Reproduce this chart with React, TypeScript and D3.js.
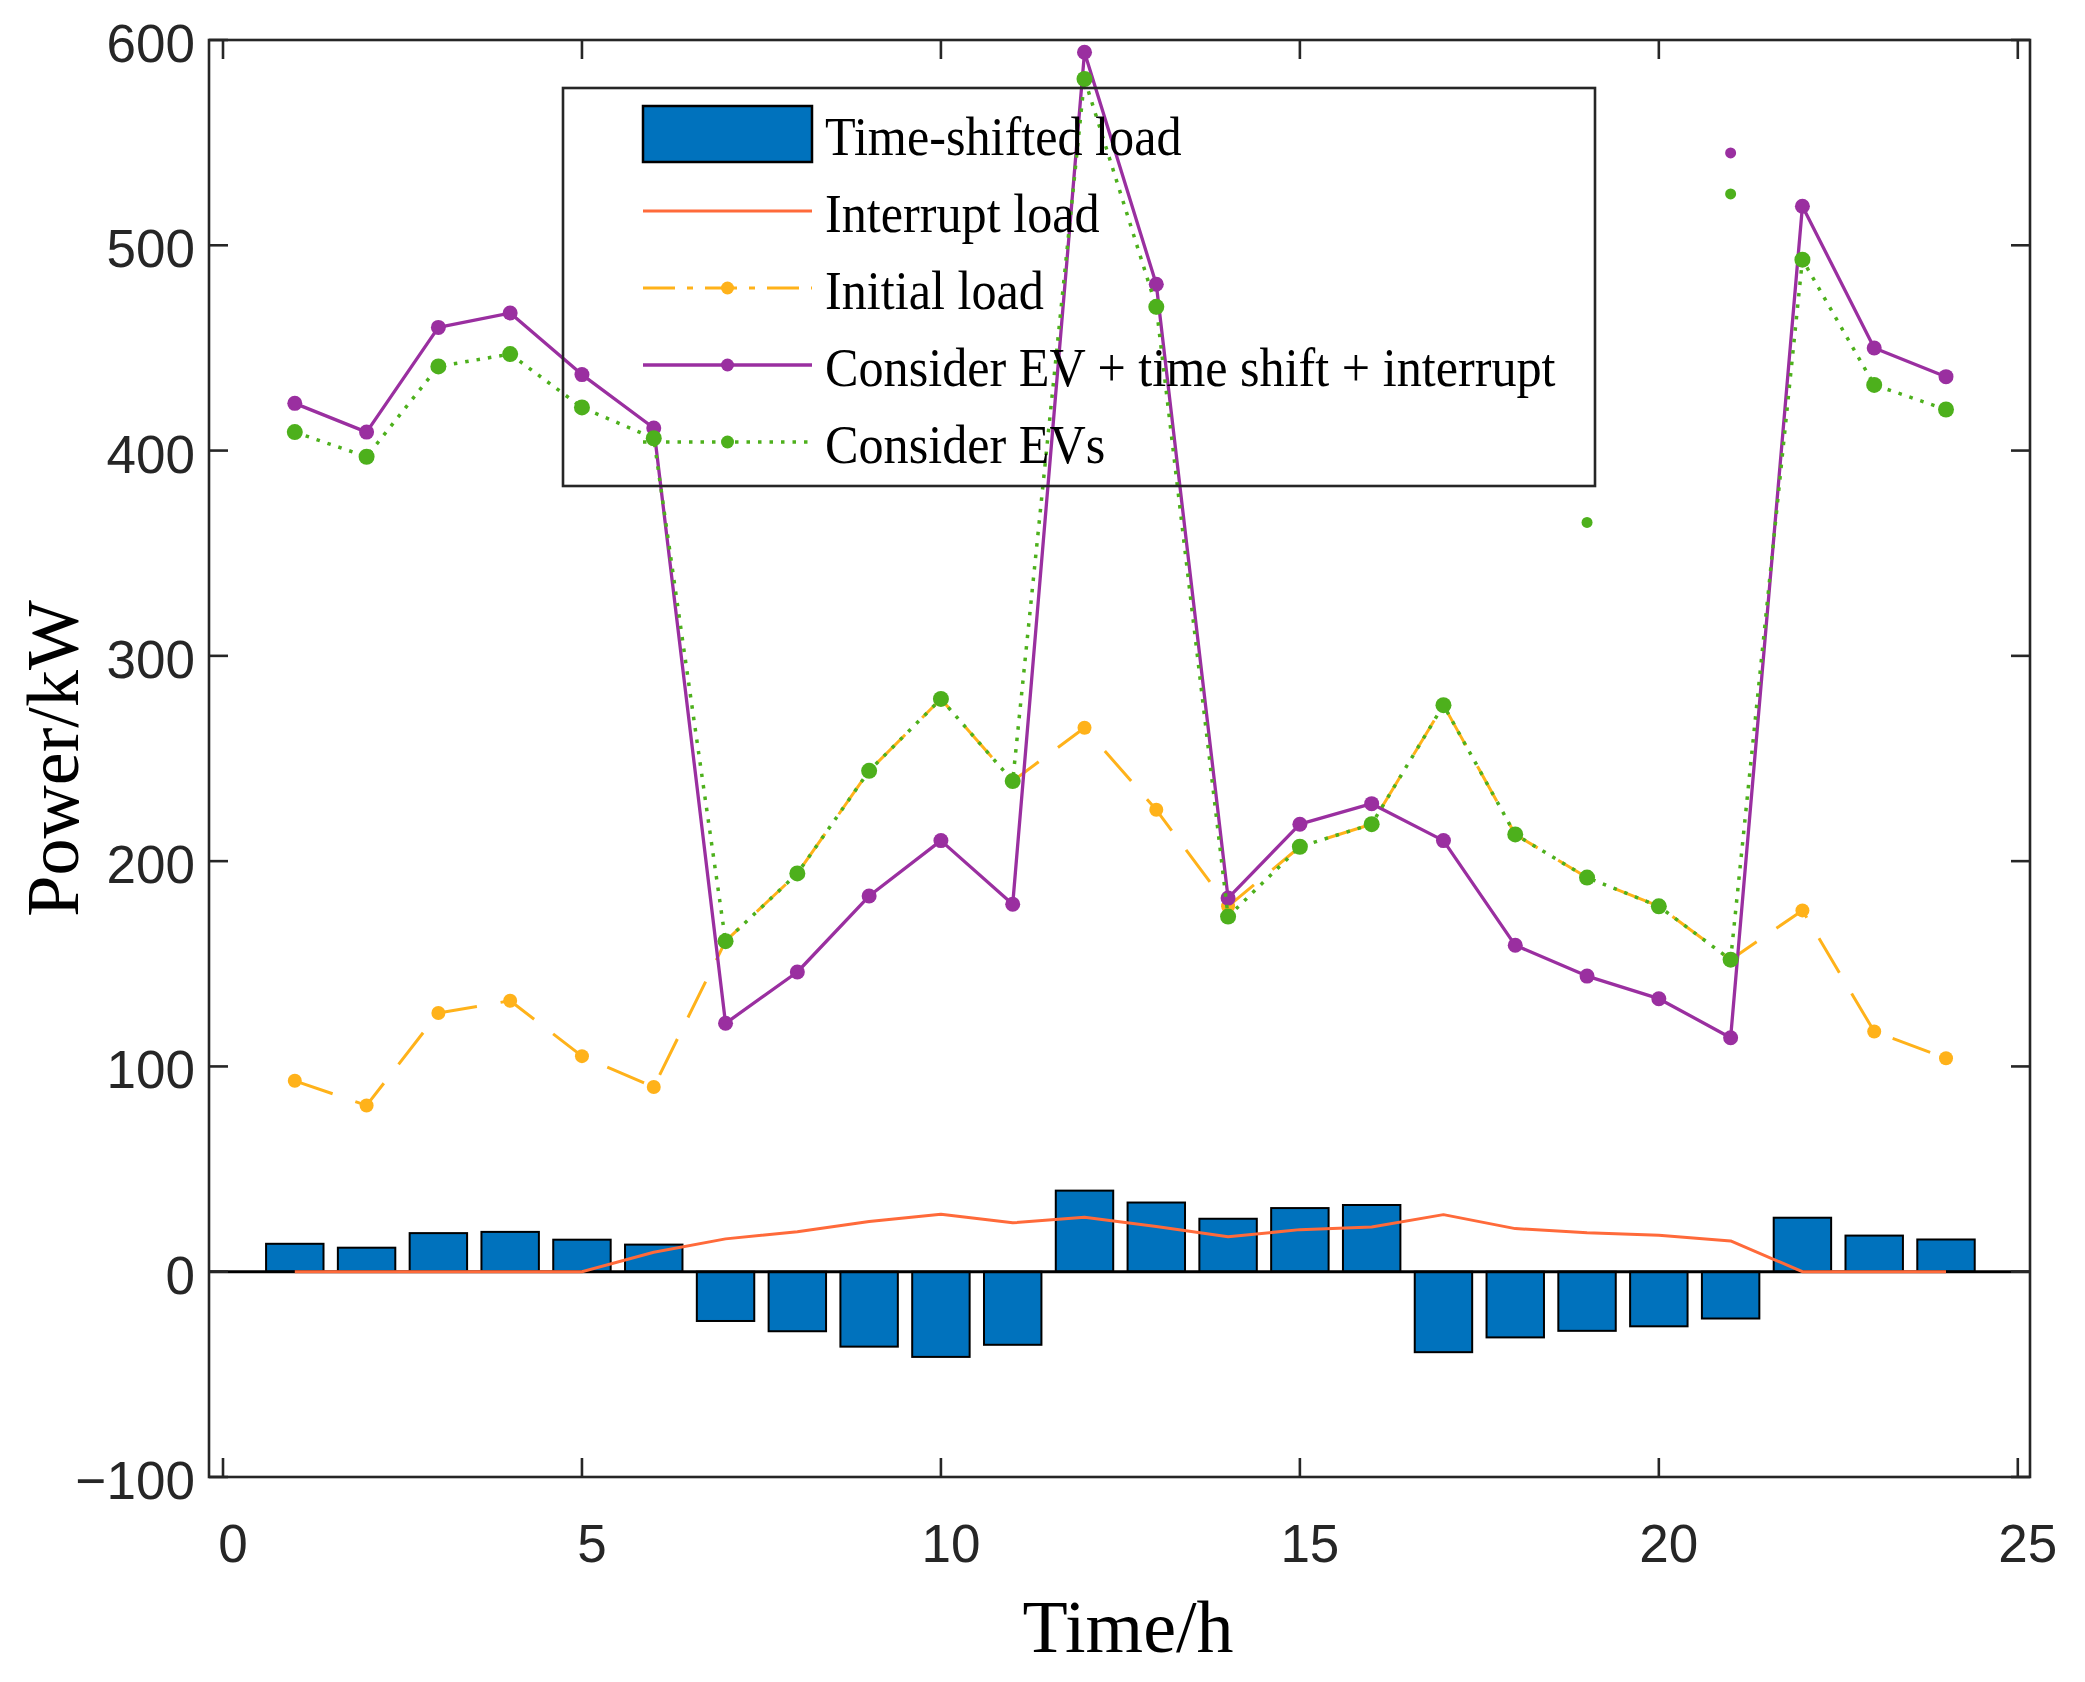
import { useEffect, useRef } from 'react';
import * as d3 from 'd3';

// hourly data
const HOURS = [1, 2, 3, 4, 5, 6, 7, 8, 9, 10, 11, 12, 13, 14, 15, 16, 17, 18, 19, 20, 21, 22, 23, 24];
const SHIFTED = [13.6, 11.7, 18.8, 19.4, 15.6, 13.2, -24, -29, -36.5, -41.5, -35.6, 39.5, 33.7, 25.8, 31, 32.5, -39.2, -32, -28.8, -26.6, -22.8, 26.3, 17.6, 15.7];
const INTERRUPT = [0, 0, 0, 0, 0, 9.5, 16, 19.5, 24.5, 28, 23.8, 26.5, 22, 17, 20.5, 21.8, 27.8, 21, 19, 17.8, 15, 0, 0, 0];
const INITIAL = [93, 81, 126, 132, 105, 90, 161, 194, 244, 279, 239, 265, 225, 178, 207, 218, 276, 213, 192, 178, 152, 176, 117, 104];
const EV_ONLY = [409, 397, 441, 447, 421, 406, 161, 194, 244, 279, 239, 581, 470, 173, 207, 218, 276, 213, 192, 178, 152, 493, 432, 420];
const EV_ALL = [423, 409, 460, 467, 437, 411, 121, 146, 183, 210, 179, 594, 481, 182, 218, 228, 210, 159, 144, 133, 114, 519, 450, 436];
// loose markers with no line through them
const STRAY_EV_ONLY: [number, number][] = [[19, 365], [21, 525]];
const STRAY_EV_ALL: [number, number][] = [[21, 545]];

const X_TICKS = [0, 5, 10, 15, 20, 25];
const Y_TICKS = [-100, 0, 100, 200, 300, 400, 500, 600];
const LEGEND_LABELS = ['Time-shifted load', 'Interrupt load', 'Initial load', 'Consider EV + time shift + interrupt', 'Consider EVs'];

const WIDTH = 2085;
const HEIGHT = 1682;
const PLOT = { left: 209, right: 2030, top: 40, bottom: 1477 };
const AXIS_COLOR = '#262626';
const C = {
  bar: '#0072BD',
  interrupt: '#FF6A3A',
  initial: '#FFB21A',
  all: '#9A2FA0',
  ev: '#4DB01C',
};
const SANS = '"Liberation Sans", Arial, sans-serif';
const SERIF = '"Liberation Serif", "Times New Roman", serif';

export default function App() {
  const svgRef = useRef<SVGSVGElement>(null);

  useEffect(() => {
    if (!svgRef.current) return;
    const svg = d3.select(svgRef.current);
    svg.selectAll('*').remove();

    const x = d3.scaleLinear().domain([-0.195, 25.17]).range([PLOT.left, PLOT.right]);
    const y = d3.scaleLinear().domain([-100, 600]).range([PLOT.bottom, PLOT.top]);
    const barW = x(0.8) - x(0);

    const g = svg.append('g');

    // bars
    g.selectAll('rect.bar')
      .data(HOURS)
      .join('rect')
      .attr('class', 'bar')
      .attr('x', (h) => x(h) - barW / 2)
      .attr('width', barW)
      .attr('y', (_, i) => y(Math.max(0, SHIFTED[i])))
      .attr('height', (_, i) => Math.abs(y(SHIFTED[i]) - y(0)))
      .attr('fill', C.bar)
      .attr('stroke', '#000')
      .attr('stroke-width', 2);

    // bar baseline
    g.append('line')
      .attr('x1', PLOT.left).attr('x2', PLOT.right)
      .attr('y1', y(0)).attr('y2', y(0))
      .attr('stroke', '#000').attr('stroke-width', 3);

    const line = d3.line<number>().x((_, i) => x(HOURS[i])).y((d) => y(d));

    const drawSeries = (vals: number[], color: string, width: number, dash: string | null, r: number) => {
      g.append('path')
        .datum(vals)
        .attr('d', line)
        .attr('fill', 'none')
        .attr('stroke', color)
        .attr('stroke-width', width)
        .attr('stroke-dasharray', dash)
        .attr('stroke-linejoin', 'round');
      if (r > 0) {
        g.append('g')
          .selectAll('circle')
          .data(vals)
          .join('circle')
          .attr('cx', (_, i) => x(HOURS[i]))
          .attr('cy', (d) => y(d))
          .attr('r', r)
          .attr('fill', color);
      }
    };

    drawSeries(INTERRUPT, C.interrupt, 3, null, 0);
    drawSeries(INITIAL, C.initial, 3, '40 24', 7);
    drawSeries(EV_ALL, C.all, 3.3, null, 7.5);
    drawSeries(EV_ONLY, C.ev, 3.5, '3.5 8', 8);

    const stray = (pts: [number, number][], color: string) => {
      g.append('g')
        .selectAll('circle')
        .data(pts)
        .join('circle')
        .attr('cx', (d) => x(d[0]))
        .attr('cy', (d) => y(d[1]))
        .attr('r', 5.5)
        .attr('fill', color);
    };
    stray(STRAY_EV_ONLY, C.ev);
    stray(STRAY_EV_ALL, C.all);

    // axes box
    const axes = svg.append('g');
    axes.append('rect')
      .attr('x', PLOT.left).attr('y', PLOT.top)
      .attr('width', PLOT.right - PLOT.left).attr('height', PLOT.bottom - PLOT.top)
      .attr('fill', 'none').attr('stroke', AXIS_COLOR).attr('stroke-width', 2.6);

    const TICK = 19;
    X_TICKS.forEach((t) => {
      axes.append('line')
        .attr('x1', x(t)).attr('x2', x(t))
        .attr('y1', PLOT.bottom).attr('y2', PLOT.bottom - TICK)
        .attr('stroke', AXIS_COLOR).attr('stroke-width', 2.6);
      axes.append('line')
        .attr('x1', x(t)).attr('x2', x(t))
        .attr('y1', PLOT.top).attr('y2', PLOT.top + TICK)
        .attr('stroke', AXIS_COLOR).attr('stroke-width', 2.6);
      axes.append('text')
        .attr('x', x(t) + 10)
        .attr('y', PLOT.bottom + 85)
        .attr('text-anchor', 'middle')
        .attr('font-family', SANS)
        .attr('font-size', 53)
        .attr('fill', AXIS_COLOR)
        .text(String(t));
    });

    Y_TICKS.forEach((t) => {
      axes.append('line')
        .attr('x1', PLOT.left).attr('x2', PLOT.left + TICK)
        .attr('y1', y(t)).attr('y2', y(t))
        .attr('stroke', AXIS_COLOR).attr('stroke-width', 2.6);
      axes.append('line')
        .attr('x1', PLOT.right).attr('x2', PLOT.right - TICK)
        .attr('y1', y(t)).attr('y2', y(t))
        .attr('stroke', AXIS_COLOR).attr('stroke-width', 2.6);
      axes.append('text')
        .attr('x', PLOT.left - 14)
        .attr('y', y(t) + 22)
        .attr('text-anchor', 'end')
        .attr('font-family', SANS)
        .attr('font-size', 53)
        .attr('fill', AXIS_COLOR)
        .text(t < 0 ? `\u2212${Math.abs(t)}` : String(t));
    });

    // axis titles
    svg.append('text')
      .attr('x', 1128).attr('y', 1652)
      .attr('text-anchor', 'middle')
      .attr('font-family', SERIF).attr('font-size', 74)
      .attr('fill', '#000')
      .text('Time/h');
    svg.append('text')
      .attr('transform', `translate(78,${(PLOT.top + PLOT.bottom) / 2}) rotate(-90)`)
      .attr('text-anchor', 'middle')
      .attr('font-family', SERIF).attr('font-size', 74)
      .attr('fill', '#000')
      .text('Power/kW');

    // legend (transparent box, the data shows through it)
    const leg = svg.append('g');
    leg.append('rect')
      .attr('x', 563).attr('y', 88)
      .attr('width', 1595 - 563).attr('height', 486 - 88)
      .attr('fill', 'none').attr('stroke', AXIS_COLOR).attr('stroke-width', 2.6);

    const sx0 = 643;
    const sx1 = 812;
    const sxm = (sx0 + sx1) / 2;
    LEGEND_LABELS.forEach((label, i) => {
      const base = 155 + i * 77;
      const cy = base - 21;
      if (i === 0) {
        leg.append('rect')
          .attr('x', sx0).attr('y', cy - 28)
          .attr('width', sx1 - sx0).attr('height', 56)
          .attr('fill', C.bar).attr('stroke', '#000').attr('stroke-width', 2.5);
      } else {
        const spec = [
          null,
          { c: C.interrupt, dash: null, w: 3, r: 0 },
          { c: C.initial, dash: '32 12 6 12', w: 3, r: 6.5 },
          { c: C.all, dash: null, w: 3.3, r: 6.5 },
          { c: C.ev, dash: '3.5 8', w: 3.5, r: 6.5 },
        ][i]!;
        leg.append('line')
          .attr('x1', sx0).attr('x2', sx1)
          .attr('y1', cy).attr('y2', cy)
          .attr('stroke', spec.c).attr('stroke-width', spec.w)
          .attr('stroke-dasharray', spec.dash);
        if (spec.r > 0) {
          leg.append('circle').attr('cx', sxm).attr('cy', cy).attr('r', spec.r).attr('fill', spec.c);
        }
      }
      leg.append('text')
        .attr('transform', `translate(825,${base}) scale(0.93,1)`)
        .attr('font-family', SERIF).attr('font-size', 54)
        .attr('fill', '#000')
        .text(label);
    });
  }, []);

  return (
    <svg
      ref={svgRef}
      width={WIDTH}
      height={HEIGHT}
      style={{ position: 'absolute', left: 0, top: 0, background: '#fff', display: 'block' }}
    />
  );
}
